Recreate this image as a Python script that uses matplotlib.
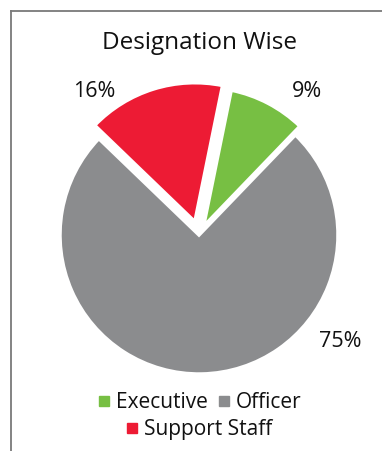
"""Pie chart: staff by designation."""
import math

import matplotlib
matplotlib.use("Agg")
import matplotlib.pyplot as plt
from matplotlib.lines import Line2D

plt.rcParams["font.family"] = ["Open Sans", "DejaVu Sans"]

CATEGORIES = ["Executive", "Officer", "Support Staff"]
SHARES = [9, 75, 16]
COLORS = ["#77bf43", "#8b8c8e", "#ed1b34"]
EXPLODE = [0.07, 0.0, 0.1]
PCT_LABELS = ["9%", "75%", "16%"]
TITLE = "Designation Wise"

# label placement (angle clockwise from top in degrees, distance in radii)
LABEL_POS = [(37, 1.29), (127, 1.27), (-36, 1.28)]


def main():
    fig = plt.figure(figsize=(3.82, 4.51), dpi=100)
    W, H = 382, 451
    R = 139          # pie radius in px
    cx, cy = 199, 451 - 235
    lim = 1.2
    side = 2 * lim * R
    ax = fig.add_axes([(cx - side / 2) / W, (cy - side / 2) / H, side / W, side / H])

    ax.pie(SHARES, colors=COLORS, explode=EXPLODE, startangle=78.5,
           counterclock=False, radius=1.0,
           wedgeprops=dict(edgecolor="white", linewidth=2.5))
    ax.set_xlim(-lim, lim)
    ax.set_ylim(-lim, lim)
    ax.set_aspect("equal")
    ax.axis("off")

    for txt, (ang, dist) in zip(PCT_LABELS, LABEL_POS):
        a = math.radians(ang)
        ax.text(dist * math.sin(a), dist * math.cos(a), txt, ha="center",
                va="center", fontsize=15.5, color="#111111")

    fig.text(cx / W, 1 - 43 / H, TITLE, ha="center", va="center",
             fontsize=17.5, color="#111111")

    # frame lines on top and left only
    fig.add_artist(Line2D([11 / W, 1], [1 - 10.5 / H, 1 - 10.5 / H],
                          color="#7a7a7a", lw=1.3))
    fig.add_artist(Line2D([11 / W, 11 / W], [0, 1 - 10.5 / H],
                          color="#7a7a7a", lw=1.3))

    def handle(c):
        return Line2D([], [], ls="none", marker="s", markersize=7.8,
                      markerfacecolor=c, markeredgecolor=c)

    kw = dict(loc="center", frameon=False, fontsize=15, handlelength=0.65,
              handletextpad=0.25, columnspacing=0.45, borderpad=0,
              labelcolor="#111111")
    fig.legend([handle(COLORS[0]), handle(COLORS[1])], CATEGORIES[:2],
               ncol=2, bbox_to_anchor=(cx / W, 1 - 403 / H), **kw)
    fig.legend([handle(COLORS[2])], CATEGORIES[2:], ncol=1,
               bbox_to_anchor=(cx / W, 1 - 430 / H), **kw)

    fig.savefig("out.png", dpi=100)


if __name__ == "__main__":
    main()
